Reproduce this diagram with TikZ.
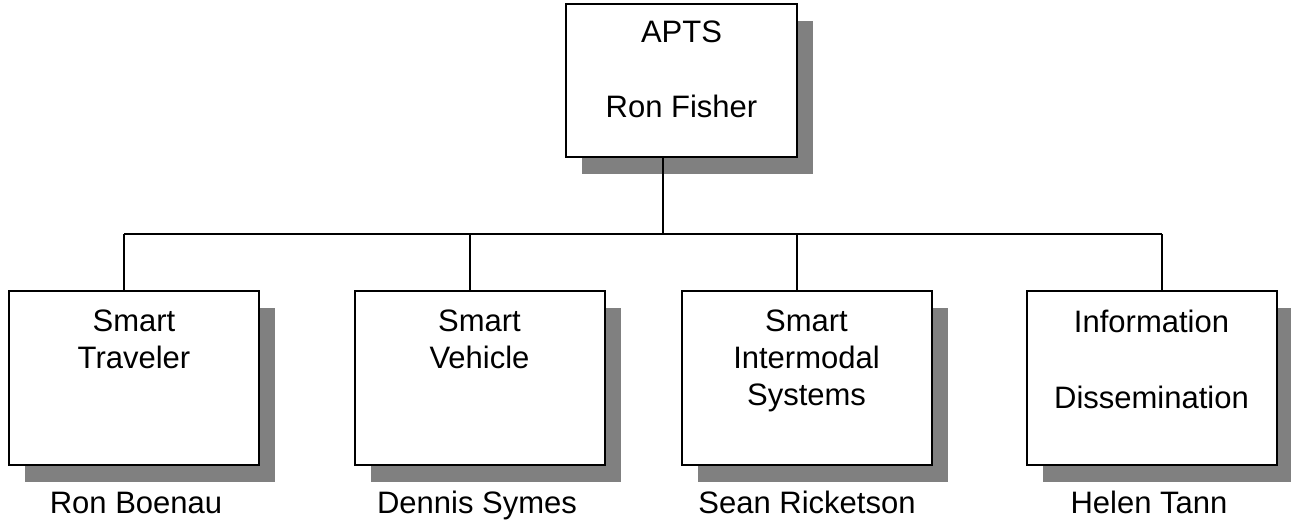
\documentclass[tikz,border=0pt]{standalone}
\usepackage{fontspec}
\setmainfont{Liberation Sans}
\usetikzlibrary{shadows}

\tikzset{
  unitbox/.style={draw, line width=2pt, fill=white, inner sep=0pt,
    minimum width=250pt, minimum height=174pt,
    drop shadow={shadow xshift=16pt, shadow yshift=-17pt, fill=black!50, opacity=1}},
  boxtext/.style={anchor=north, inner sep=0pt, align=center, font=\fontsize{31}{37}\selectfont},
  headname/.style={anchor=base, inner sep=0pt, font=\fontsize{31}{37}\selectfont},
  link/.style={line width=1.5pt}
}

\begin{document}
\begin{tikzpicture}[x=1pt,y=-1pt]
\useasboundingbox (0,0) rectangle (1291,522);

\node[unitbox, minimum width=231pt, minimum height=153pt] (apts) at (681.5,80.5) {};
\node[boxtext] (aptstext) at ([yshift=-18pt]apts.north) {APTS\\[38pt]Ron Fisher};

\node[unitbox] (trav) at (134,378) {};
\node[unitbox] (veh) at (479.5,378) {};
\node[unitbox] (inter) at (806.5,378) {};
\node[unitbox] (info) at (1151.5,378) {};

\node[boxtext] (travtext) at ([yshift=-20pt]trav.north) {Smart\\Traveler};
\node[boxtext] (vehtext) at ([yshift=-20pt]veh.north) {Smart\\Vehicle};
\node[boxtext] (intertext) at ([yshift=-20pt]inter.north) {Smart\\Intermodal\\Systems};
\node[boxtext] (infotext) at ([yshift=-20pt]info.north) {Information\\[39pt]Dissemination};

\node[headname] (travhead) at (136,513) {Ron Boenau};
\node[headname] (vehhead) at (477,513) {Dennis Symes};
\node[headname] (interhead) at (807,513) {Sean Ricketson};
\node[headname] (infohead) at (1149,513) {Helen Tann};

\coordinate (hub) at (663,234);
\coordinate (j1) at (124,234);
\coordinate (j2) at (470,234);
\coordinate (j3) at (797,234);
\coordinate (j4) at (1162,234);

\draw[link] (apts.south -| hub) -- (hub);
\draw[link] (j1) -- (j4);
\draw[link] (j1) -- (j1 |- trav.north);
\draw[link] (j2) -- (j2 |- veh.north);
\draw[link] (j3) -- (j3 |- inter.north);
\draw[link] (j4) -- (j4 |- info.north);
\end{tikzpicture}
\end{document}
